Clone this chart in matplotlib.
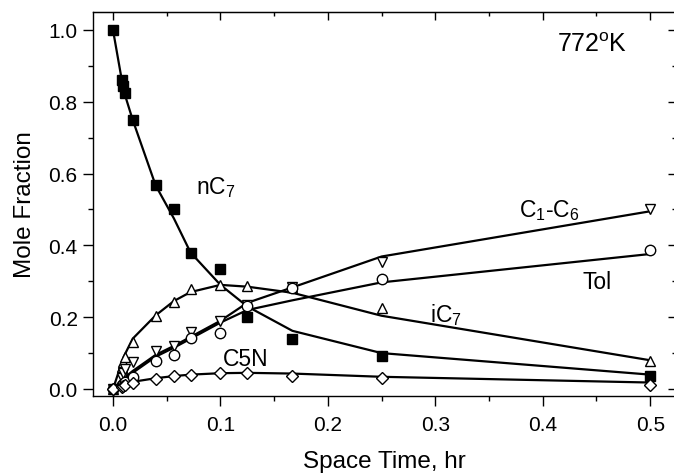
import matplotlib
matplotlib.use("Agg")
import matplotlib.pyplot as plt
from matplotlib.ticker import MultipleLocator, FormatStrFormatter

plt.rcParams['font.family'] = ['Liberation Sans', 'DejaVu Sans']
plt.rcParams['mathtext.fontset'] = 'custom'
plt.rcParams['mathtext.rm'] = 'Liberation Sans'
plt.rcParams['mathtext.it'] = 'Liberation Sans'

# Experimental data (space time, hr)
x_data = [0.0, 0.0083, 0.0097, 0.0111, 0.0183, 0.0397, 0.0567, 0.0722, 0.1, 0.125, 0.167, 0.25, 0.5]
nC7 = [1.0, 0.86, 0.845, 0.825, 0.75, 0.567, 0.50, 0.378, 0.334, 0.20, 0.139, 0.093, 0.036]
iC7 = [0.0, 0.06, 0.075, 0.09, 0.13, 0.204, 0.241, 0.279, 0.29, 0.286, 0.283, 0.225, 0.079]
C1C6 = [0.0, 0.03, 0.045, 0.055, 0.074, 0.107, 0.121, 0.158, 0.188, 0.234, 0.283, 0.353, 0.501]
Tol = [0.0, 0.01, 0.015, 0.02, 0.033, 0.079, 0.095, 0.141, 0.155, 0.23, 0.28, 0.306, 0.388]
C5N = [0.0, 0.005, 0.008, 0.01, 0.017, 0.028, 0.037, 0.04, 0.044, 0.044, 0.037, 0.031, 0.011]

# Model curves
x_model = [0.0, 0.01, 0.0183, 0.0397, 0.0567, 0.0722, 0.1, 0.125, 0.167, 0.25, 0.5]
nC7_m = [1.0, 0.83, 0.75, 0.567, 0.475, 0.38, 0.29, 0.23, 0.162, 0.100, 0.040]
iC7_m = [0.0, 0.09, 0.14, 0.205, 0.245, 0.27, 0.29, 0.285, 0.268, 0.204, 0.080]
C1C6_m = [0.0, 0.03, 0.05, 0.095, 0.12, 0.145, 0.19, 0.24, 0.283, 0.369, 0.495]
Tol_m = [0.0, 0.025, 0.045, 0.09, 0.115, 0.14, 0.185, 0.22, 0.247, 0.297, 0.376]
C5N_m = [0.0, 0.012, 0.02, 0.03, 0.036, 0.04, 0.044, 0.045, 0.043, 0.034, 0.018]

fig = plt.figure(figsize=(6.74, 4.77), dpi=100)
ax = fig.add_axes([93/674, 1 - 397/477, (676 - 93)/674, (397 - 13)/477])

lw = 1.6
for ym in [nC7_m, iC7_m, C1C6_m, Tol_m, C5N_m]:
    ax.plot(x_model, ym, color='black', lw=lw, zorder=2)

mk = dict(linestyle='none', color='black', markersize=7.5, mew=1.0, zorder=3)
ax.plot(x_data, nC7, marker='s', markerfacecolor='black', **mk)
ax.plot(x_data, iC7, marker='^', markerfacecolor='white', **mk)
ax.plot(x_data, C1C6, marker='v', markerfacecolor='white', **mk)
ax.plot(x_data, Tol, marker='o', markerfacecolor='white', **mk)
ax.plot(x_data, C5N, marker='D', markerfacecolor='white', markersize=6, linestyle='none',
        color='black', mew=1.0, zorder=3)

ax.set_xlim(-0.0186, 0.524)
ax.set_ylim(-0.0195, 1.05)
ax.xaxis.set_major_locator(MultipleLocator(0.1))
ax.xaxis.set_minor_locator(MultipleLocator(0.05))
ax.yaxis.set_major_locator(MultipleLocator(0.2))
ax.yaxis.set_minor_locator(MultipleLocator(0.1))
ax.xaxis.set_major_formatter(FormatStrFormatter('%.1f'))
ax.yaxis.set_major_formatter(FormatStrFormatter('%.1f'))

ax.tick_params(which='major', direction='out', length=7, width=1, labelsize=15, pad=4)
ax.tick_params(which='minor', direction='out', length=3.5, width=1)
ax.tick_params(axis='x', which='major', pad=7)
for s in ax.spines.values():
    s.set_linewidth(1.0)

secx = ax.secondary_xaxis('top')
secx.xaxis.set_major_locator(MultipleLocator(0.1))
secx.xaxis.set_minor_locator(MultipleLocator(0.05))
secx.tick_params(which='major', direction='in', length=6, width=1, labeltop=False)
secx.tick_params(which='minor', direction='in', length=3, width=1)
secy = ax.secondary_yaxis('right')
secy.yaxis.set_major_locator(MultipleLocator(0.2))
secy.yaxis.set_minor_locator(MultipleLocator(0.1))
secy.tick_params(which='major', direction='in', length=6, width=1, labelright=False)
secy.tick_params(which='minor', direction='in', length=3, width=1)

ax.set_xlabel('Space Time, hr', fontsize=17.5, labelpad=11)
ax.set_ylabel('Mole Fraction', fontsize=17.5, labelpad=9)

fs = 16.5
ax.text(0.077, 0.565, r'nC$_7$', fontsize=fs, va='center', ha='left')
ax.text(0.378, 0.50, r'C$_1$-C$_6$', fontsize=fs, va='center', ha='left')
ax.text(0.437, 0.30, 'Tol', fontsize=fs, va='center', ha='left')
ax.text(0.295, 0.209, r'iC$_7$', fontsize=fs, va='center', ha='left')
ax.text(0.102, 0.084, 'C5N', fontsize=fs, va='center', ha='left')
ax.text(0.413, 0.96, r'772$^{\rm o}$K', fontsize=18, va='center', ha='left')

fig.savefig('out.png', dpi=100)
